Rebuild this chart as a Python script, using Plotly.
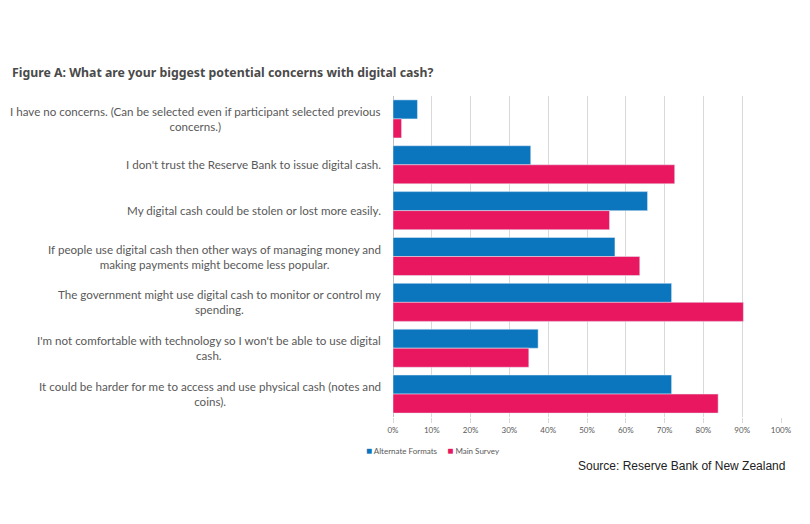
"""
digital cash concerns - grouped horizontal bar chart
"""
import plotly.graph_objects as go

categories = [
    "I have no concerns. (Can be selected even if participant selected previous<br>concerns.)",
    "I don't trust the Reserve Bank to issue digital cash.",
    "My digital cash could be stolen or lost more easily.",
    "If people use digital cash then other ways of managing money and<br>making payments might become less popular.",
    "The government might use digital cash to monitor or control my<br>spending.",
    "I'm not comfortable with technology so I won't be able to use digital<br>cash.",
    "It could be harder for me to access and use physical cash (notes and<br>coins).",
]
alternate_formats = [0.063, 0.355, 0.656, 0.572, 0.718, 0.374, 0.718]
main_survey = [0.022, 0.726, 0.558, 0.636, 0.903, 0.350, 0.838]
tick_vals = [0, 0.1, 0.2, 0.3, 0.4, 0.5, 0.6, 0.7, 0.8, 0.9, 1.0]
tick_text = ["0%", "10%", "20%", "30%", "40%", "50%", "60%", "70%", "80%", "90%", "100%"]

BLUE = "#0B75BE"
PINK = "#E8175F"

fig = go.Figure()
fig.add_trace(go.Bar(name="Alternate Formats", y=categories, x=alternate_formats,
                     orientation="h", marker_color=BLUE, showlegend=False))
fig.add_trace(go.Bar(name="Main Survey", y=categories, x=main_survey,
                     orientation="h", marker_color=PINK, showlegend=False))

# category labels as annotations so wrapped lines are centred like the original
for cat in categories:
    fig.add_annotation(text=cat, x=0, xref="paper", y=cat, yref="y",
                       xanchor="right", xshift=-10, showarrow=False, align="center",
                       font=dict(family="Lato", size=11.6, color="#595959"))

# small legend like the original (squares close to the text)
fig.add_annotation(text="<span style='color:" + BLUE + ";font-size:10px'>■</span> Alternate Formats"
                        + "     <span style='color:" + PINK + ";font-size:10px'>■</span> Main Survey",
                   x=-0.074, xref="paper", y=-0.103, yref="paper",
                   xanchor="left", yanchor="middle", showarrow=False,
                   font=dict(family="Lato", size=8, color="#595959"))

fig.add_annotation(text="Source: Reserve Bank of New Zealand", x=1.016, xref="paper",
                   y=-0.153, yref="paper", xanchor="right", yanchor="middle",
                   showarrow=False,
                   font=dict(family="Liberation Sans", size=12, color="#222222"))

fig.update_layout(
    width=810, height=524,
    margin=dict(l=385, r=37, t=88, b=115),
    paper_bgcolor="#FFFFFF", plot_bgcolor="#FFFFFF",
    barmode="group", bargap=0.17, bargroupgap=0,
    title=dict(text="<b>Figure A: What are your biggest potential concerns with digital cash?</b>",
               x=4 / 810, xref="container", xanchor="left",
               y=1 - 65 / 524, yref="container", yanchor="middle",
               font=dict(family="Noto Sans", size=12.3, color="#4A4A4A")),
    xaxis=dict(range=[0, 1.0], tickvals=tick_vals, ticktext=tick_text,
               showgrid=True, gridcolor="#D9D9D9", gridwidth=1, zeroline=True,
               zerolinecolor="#BFBFBF", zerolinewidth=1,
               ticks="outside", ticklen=5, tickcolor="#D9D9D9",
               tickfont=dict(family="Lato", size=8, color="#595959")),
    yaxis=dict(autorange="reversed", showticklabels=False, showgrid=False),
    showlegend=False,
)

fig.write_html("out.html")
